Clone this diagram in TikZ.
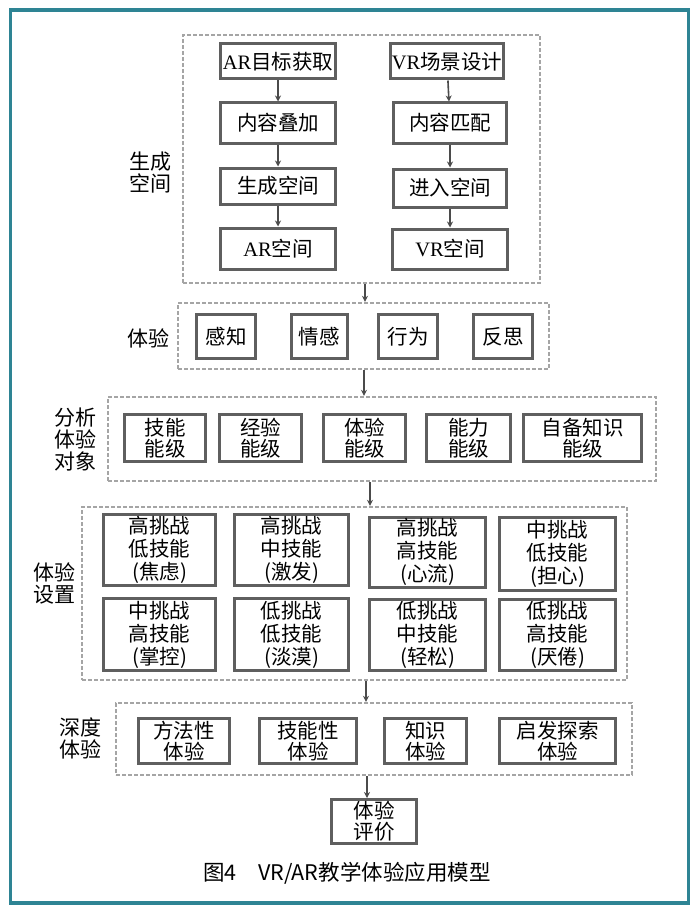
\documentclass[tikz,border=0pt]{standalone}
\usepackage{fontspec}
\setmainfont{Liberation Serif}
\newfontfamily\cjk{Noto Sans CJK SC}
\usetikzlibrary{arrows.meta}
\definecolor{tealframe}{RGB}{46,132,148}
\definecolor{boxline}{RGB}{95,95,95}
\definecolor{grpline}{RGB}{165,165,165}
\definecolor{arrline}{RGB}{75,75,75}
\tikzset{
  x=1pt,y=-1pt,
  box/.style={draw=boxline, line width=3pt, fill=white, align=center, inner sep=0pt,
    font=\cjk\fontsize{20.5}{21}\selectfont},
  box3/.style={box, font=\cjk\fontsize{20.5}{23}\selectfont},
  grp/.style={draw=grpline, line width=2.4pt, dash pattern=on 4pt off 2pt, inner sep=0pt},
  lbl/.style={align=center, inner sep=0pt, font=\cjk\fontsize{21}{22}\selectfont},
  arr/.style={draw=arrline, line width=1.6pt, -{Stealth[length=6pt,width=6pt]}},
}
\newcommand{\bx}[6]{\node[#1, minimum width=#4pt, minimum height=#5pt] (#2) at (#3) {#6};}
\begin{document}
\begin{tikzpicture}
\useasboundingbox (0,0) rectangle (700,915);
\draw[tealframe, line width=3.2pt] (10.5,10) rectangle (688.5,903);

% groups
\node[grp, minimum width=357pt, minimum height=248pt] (g1) at (361.5,159) {};
\node[grp, minimum width=371pt, minimum height=66pt] (g2) at (363.5,336) {};
\node[grp, minimum width=548pt, minimum height=84pt] (g3) at (382,439) {};
\node[grp, minimum width=545pt, minimum height=173pt] (g4) at (354.5,593.5) {};
\node[grp, minimum width=516pt, minimum height=72pt] (g5) at (374,739) {};

% group labels
\node[lbl] (l1) at (150,173) {生成\\空间};
\node[lbl] (l2) at (148,338) {体验};
\node[lbl] (l3) at (75,440) {分析\\体验\\对象};
\node[lbl] (l4) at (54,583) {体验\\设置};
\node[lbl] (l5) at (80,738) {深度\\体验};

% group 1
\bx{box}{a1}{278,61.5}{115}{35}{{\rmfamily AR}目标获取}
\bx{box}{a2}{278,123}{115}{40}{内容叠加}
\bx{box}{a3}{278,186}{115}{36}{生成空间}
\bx{box}{a4}{278,248.5}{115}{41}{{\rmfamily AR}空间}
\bx{box}{v1}{447,61.5}{113}{35}{{\rmfamily VR}场景设计}
\bx{box}{v2}{450,123}{113}{40}{内容匹配}
\bx{box}{v3}{450,188}{113}{38}{进入空间}
\bx{box}{v4}{450,249}{115}{40}{{\rmfamily VR}空间}
\draw[arr] (a1) -- (a2);
\draw[arr] (a2) -- (a3);
\draw[arr] (a3) -- (a4);
\draw[arr] (v1) -- (v2);
\draw[arr] (v2) -- (v3);
\draw[arr] (v3) -- (v4);

% group 2
\bx{box}{e1}{226,336.5}{59}{44}{感知}
\bx{box}{e2}{319,336.5}{56}{44}{情感}
\bx{box}{e3}{408,336.5}{59}{44}{行为}
\bx{box}{e4}{503,336.5}{59}{44}{反思}

% group 3
\bx{box}{o1}{165,438}{81}{47}{技能\\能级}
\bx{box}{o2}{260.5,438}{82}{47}{经验\\能级}
\bx{box}{o3}{364.5,438}{82}{47}{体验\\能级}
\bx{box}{o4}{468.5,438}{84}{47}{能力\\能级}
\bx{box}{o5}{582.5,438}{118}{47}{自备知识\\能级}

% group 4
\bx{box3}{s1}{159.5,550}{112}{71}{高挑战\\低技能\\(焦虑)}
\bx{box3}{s2}{291.5,550}{114}{71}{高挑战\\中技能\\(激发)}
\bx{box3}{s3}{427.5,552}{116}{70}{高挑战\\高技能\\(心流)}
\bx{box3}{s4}{557.5,554}{116}{73}{中挑战\\低技能\\(担心)}
\bx{box3}{s5}{159.5,634.5}{112}{72}{中挑战\\高技能\\(掌控)}
\bx{box3}{s6}{291.5,634.5}{114}{72}{低挑战\\低技能\\(淡漠)}
\bx{box3}{s7}{427.5,635}{116}{71}{低挑战\\中技能\\(轻松)}
\bx{box3}{s8}{557.5,635}{116}{71}{低挑战\\高技能\\(厌倦)}

% group 5
\bx{box}{d1}{184,741}{91}{45}{方法性\\体验}
\bx{box}{d2}{308,741}{97}{45}{技能性\\体验}
\bx{box}{d3}{425.5,741}{82}{45}{知识\\体验}
\bx{box}{d4}{557.5,741}{116}{45}{启发探索\\体验}

% evaluation
\bx{box}{ev}{374,821.5}{85}{44}{体验\\评价}

% connectors between groups
\coordinate (x1) at (365,0);
\coordinate (x2) at (364,0);
\coordinate (x3) at (370,0);
\coordinate (x4) at (366,0);
\coordinate (x5) at (367,0);
\draw[arr] (g1.south -| x1) -- (g2.north -| x1);
\draw[arr] (g2.south -| x2) -- (g3.north -| x2);
\draw[arr] (g3.south -| x3) -- (g4.north -| x3);
\draw[arr] (g4.south -| x4) -- (g5.north -| x4);
\draw[arr] (g5.south -| x5) -- (ev.north -| x5);

% caption
\node[inner sep=0pt, font=\cjk\fontsize{21.5}{22}\selectfont] (cap) at (347,873) {图4\quad VR/AR教学体验应用模型};
\end{tikzpicture}
\end{document}
